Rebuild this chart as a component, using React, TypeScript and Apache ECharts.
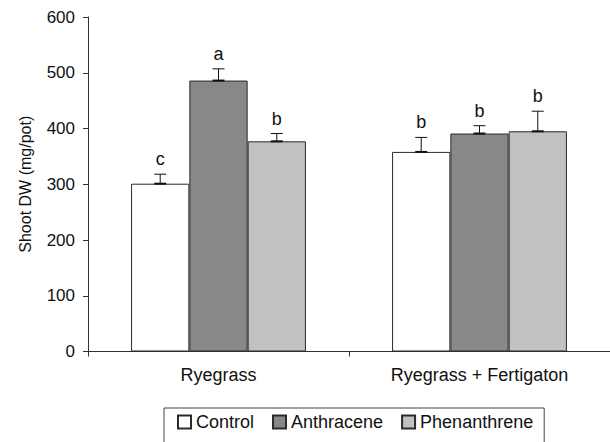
import React, { useEffect, useRef } from "react";
import * as echarts from "echarts";

const categories = ["Ryegrass", "Ryegrass + Fertigaton"];
const seriesNames = ["Control", "Anthracene", "Phenanthrene"];
const controlValues = [301, 358];
const anthraceneValues = [486, 391];
const phenanthreneValues = [377, 395];
const controlErrors = [17, 26];
const anthraceneErrors = [21, 14];
const phenanthreneErrors = [14, 36];
const controlLetters = ["c", "b"];
const anthraceneLetters = ["a", "b"];
const phenanthreneLetters = ["b", "b"];
const yTicks = [0, 100, 200, 300, 400, 500, 600];

const FONT = "'Liberation Sans', Arial, Helvetica, sans-serif";
const colors = ["#ffffff", "#87888a", "#c0c1c0"];
const CATEGORY_GAP = 0.33;

export default function App() {
  const ref = useRef<HTMLDivElement>(null);
  useEffect(() => {
    document.body.style.margin = "0";
    if (!ref.current) return;
    const chart = echarts.init(ref.current, null, { renderer: "svg" });
    const values = [controlValues, anthraceneValues, phenanthreneValues];
    const errors = [controlErrors, anthraceneErrors, phenanthreneErrors];
    const letters = [controlLetters, anthraceneLetters, phenanthreneLetters];

    const barSeries = seriesNames.map((name, i) => ({
      name,
      type: "bar",
      data: values[i],
      barGap: "0%",
      barCategoryGap: CATEGORY_GAP * 100 + "%",
      itemStyle: { color: colors[i], borderColor: "#2a2a2a", borderWidth: 1 },
      z: 2,
    }));

    const errSeries = seriesNames.map((name, i) => ({
      type: "custom",
      name: name + "-err",
      data: values[i].map((v, k) => [k, v, errors[i][k]]),
      z: 5,
      renderItem: (params: any, api: any) => {
        const cat = api.value(0);
        const v = api.value(1);
        const e = api.value(2);
        const band = api.size([1, 0])[0];
        const bw = (band * (1 - CATEGORY_GAP)) / 3;
        const base = api.coord([cat, v]);
        const top = api.coord([cat, v + e]);
        const x = base[0] + (i - 1) * bw;
        const cap = 6;
        const stroke = { stroke: "#111", lineWidth: 1 };
        return {
          type: "group",
          children: [
            { type: "line", shape: { x1: x, y1: base[1], x2: x, y2: top[1] }, style: stroke },
            { type: "line", shape: { x1: x - cap, y1: top[1], x2: x + cap, y2: top[1] }, style: stroke },
            { type: "line", shape: { x1: x - cap, y1: base[1], x2: x + cap, y2: base[1] }, style: { stroke: "#111", lineWidth: 2 } },
            {
              type: "text",
              x: x,
              y: top[1] - 6,
              style: {
                text: letters[i][params.dataIndex],
                fontFamily: FONT,
                fontSize: 18,
                fill: "#111",
                align: "center",
                verticalAlign: "bottom",
              },
            },
          ],
        };
      },
    }));

    chart.setOption({
      animation: false,
      backgroundColor: "#ffffff",
      textStyle: { fontFamily: FONT },
      grid: { left: 88, top: 17, width: 530, height: 334.5, containLabel: false },
      legend: {
        data: seriesNames,
        left: 164,
        top: 408,
        orient: "horizontal",
        icon: "rect",
        itemWidth: 13,
        itemHeight: 13,
        itemGap: 18,
        padding: [5, 11, 20, 13],
        borderColor: "#444",
        borderWidth: 1,
        textStyle: { fontFamily: FONT, fontSize: 18, color: "#111" },
      },
      xAxis: {
        type: "category",
        data: categories,
        axisLine: { lineStyle: { color: "#333", width: 1 } },
        axisTick: { show: true, length: 5, lineStyle: { color: "#333" } },
        axisLabel: { fontFamily: FONT, fontSize: 18, color: "#111", margin: 14 },
      },
      yAxis: {
        type: "value",
        min: yTicks[0],
        max: yTicks[yTicks.length - 1],
        interval: 100,
        name: "Shoot DW (mg/pot)",
        nameLocation: "middle",
        nameGap: 55,
        nameTextStyle: { fontFamily: FONT, fontSize: 16, color: "#111" },
        axisLine: { show: true, lineStyle: { color: "#333", width: 1 } },
        axisTick: { show: true, length: 5, lineStyle: { color: "#333" } },
        axisLabel: { fontFamily: FONT, fontSize: 17, color: "#111", margin: 13 },
        splitLine: { show: false },
      },
      series: [...barSeries, ...errSeries],
    });
    return () => chart.dispose();
  }, []);
  return <div ref={ref} style={{ width: 610, height: 442 }} />;
}
